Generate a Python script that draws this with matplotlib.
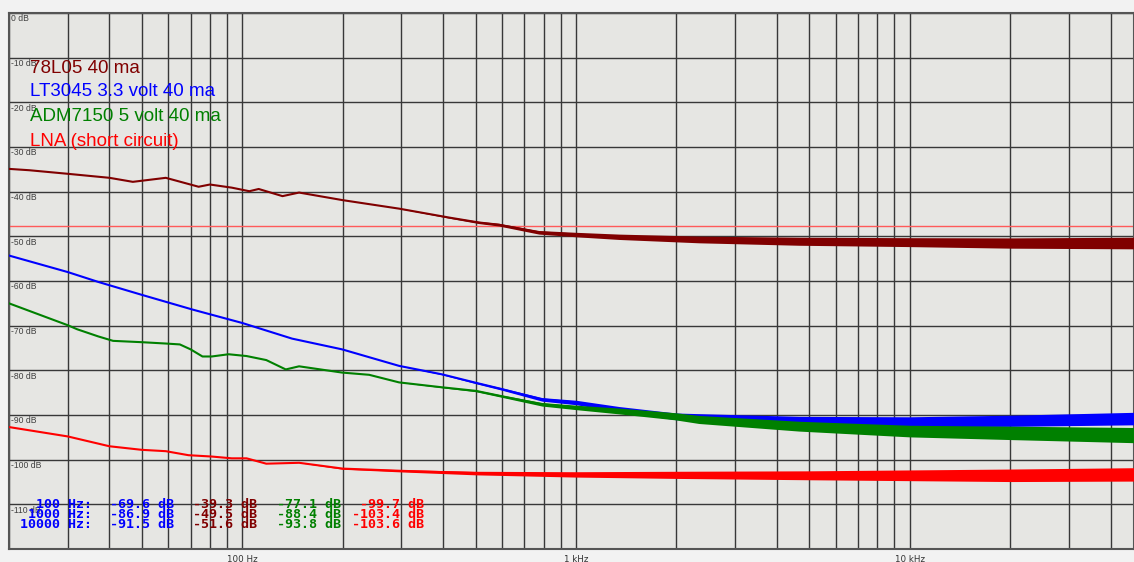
import numpy as np
import matplotlib.pyplot as plt
import matplotlib.transforms as mtransforms
from matplotlib.ticker import LogLocator, NullFormatter

# 78L05 40 ma (dark red)
f_78 = [20, 23, 30, 40, 47, 59, 74, 80, 93, 105, 112, 132, 148, 200, 295, 417, 512, 588,
        774, 1000, 1345, 2334, 4654, 10000, 20000, 47000]
db_78 = [-34.9, -35.2, -36.0, -36.9, -37.8, -36.9, -38.9, -38.4, -39.1, -39.9, -39.4, -41.0,
         -40.2, -41.9, -43.8, -45.8, -46.9, -47.4, -49.1, -49.6, -50.1, -50.7, -51.1, -51.3,
         -51.5, -51.5]
sp_78 = [0, 0, 0, 0, 0, 0, 0, 0, 0, 0, 0, 0, 0, 0, 0, 0.3, 0.5, 0.6, 0.8, 1.0, 1.2, 1.5,
         1.8, 2.0, 2.3, 2.6]

# LT3045 3.3 volt 40 ma (blue)
f_lt = [20, 30, 37, 50, 71, 100, 141, 199, 295, 397, 502, 600, 791, 1000, 1345, 1990, 2334,
        4654, 10000, 20000, 47000]
db_lt = [-54.3, -58.0, -60.2, -63.1, -66.4, -69.4, -72.9, -75.3, -79.0, -80.9, -82.8, -84.2,
         -86.5, -87.2, -88.7, -90.3, -90.5, -91.3, -91.5, -91.3, -90.8]
sp_lt = [0, 0, 0, 0, 0, 0, 0, 0, 0, 0.2, 0.4, 0.5, 0.8, 1.0, 1.2, 1.5, 1.6, 2.0, 2.2, 2.5, 2.8]

# ADM7150 5 volt 40 ma (green)
f_adm = [20, 30, 32, 37, 41, 50, 59, 65, 70, 76, 81, 91, 103, 118, 135, 148, 199, 240, 295,
         397, 502, 600, 791, 1000, 1345, 1990, 2334, 4654, 10000, 20000, 47000]
db_adm = [-65.0, -69.9, -70.8, -72.4, -73.4, -73.7, -74.0, -74.2, -75.3, -76.9, -76.9, -76.4,
          -76.8, -77.7, -79.8, -79.1, -80.5, -81.0, -82.7, -83.8, -84.6, -85.8, -87.6, -88.3,
          -89.1, -90.3, -91.0, -92.5, -93.6, -94.0, -94.5]
sp_adm = [0, 0, 0, 0, 0, 0, 0, 0, 0, 0, 0, 0, 0, 0, 0, 0, 0, 0, 0, 0.2, 0.4, 0.5, 0.8, 1.0,
          1.3, 1.6, 1.8, 2.2, 2.6, 3.0, 3.4]

# LNA (short circuit) (red)
f_lna = [20, 30, 40, 50, 59, 69, 81, 93, 103, 118, 148, 200, 300, 500, 1000, 2000, 5000,
         10000, 20000, 47000]
db_lna = [-92.7, -94.8, -97.0, -97.8, -98.1, -99.0, -99.3, -99.7, -99.7, -100.9, -100.7,
          -102.0, -102.5, -103.0, -103.3, -103.4, -103.5, -103.5, -103.5, -103.3]
sp_lna = [0, 0, 0, 0, 0, 0, 0, 0, 0, 0, 0, 0.3, 0.5, 0.8, 1.2, 1.6, 2.0, 2.4, 2.8, 3.0]

ref_level = -47.6

labels = ['78L05 40 ma', 'LT3045 3.3 volt 40 ma', 'ADM7150 5 volt 40 ma', 'LNA (short circuit)']
colors = ['#800000', '#0000ff', '#008000', '#ff0000']

table_freqs = [100, 1000, 10000]
tab_lt = [-69.6, -86.9, -91.5]
tab_78 = [-39.3, -49.5, -51.6]
tab_adm = [-77.1, -88.4, -93.8]
tab_lna = [-99.7, -103.4, -103.6]

xtick_vals = [100, 1000, 10000]
xtick_labels = ['100 Hz', '1 kHz', '10 kHz']

W, H = 1134, 562
fig = plt.figure(figsize=(W / 100, H / 100), dpi=100, facecolor='#f2f2f2')
ax = fig.add_axes([9 / W, 13 / H, (W - 9) / W, 536 / H])
ax.set_facecolor('#e6e6e3')
ax.set_xscale('log')
ax.set_xlim(20, 47000)
ax.set_ylim(-120, 0)

ax.set_xticks(xtick_vals)
ax.set_xticklabels(xtick_labels)
ax.xaxis.set_minor_locator(LogLocator(base=10, subs=range(2, 10), numticks=30))
ax.xaxis.set_minor_formatter(NullFormatter())
ax.set_yticks(np.arange(-120, 1, 10))
ax.set_axisbelow(True)
ax.grid(which='both', axis='x', color='#383838', lw=1.0)
ax.grid(which='major', axis='y', color='#383838', lw=1.0)
ax.tick_params(which='both', length=0)
ax.tick_params(axis='y', labelleft=False)
ax.tick_params(axis='x', labelsize=6.3, colors='#333333', pad=4)
for s in ax.spines.values():
    s.set_color('#555555')
    s.set_linewidth(1.5)

series = [(f_78, db_78, sp_78), (f_lt, db_lt, sp_lt), (f_adm, db_adm, sp_adm), (f_lna, db_lna, sp_lna)]
for (f, db, sp), c in zip(series, colors):
    f = np.array(f); db = np.array(db); sp = np.array(sp)
    ax.fill_between(f, db - sp / 2, db + sp / 2, color=c, lw=0, zorder=3)
    ax.plot(f, db, color=c, lw=1.5, zorder=3)

ax.axhline(ref_level, color='#ff5a5a', lw=1.0, zorder=2.5)

# y labels inside plot
trans = mtransforms.blended_transform_factory(ax.transAxes, ax.transData)
for v in range(0, -111, -10):
    ax.text(0.002, v - 0.3, f'{v} dB', transform=trans, va='top', ha='left',
            fontsize=6.2, color='#404040', family='Liberation Sans')

# legend texts
baselines = [72.7, 95.7, 121, 145.7]
for lab, c, yb in zip(labels, colors, baselines):
    fig.text(30 / W, 1 - yb / H, lab, color=c, fontsize=13.5, family='Liberation Sans',
             va='baseline', ha='left')

# value table
row_base = [507.5, 517.8, 528]
mono = dict(family='DejaVu Sans Mono', weight='bold', fontsize=9.6, va='baseline', ha='left')
for i, yb in enumerate(row_base):
    y = 1 - yb / H
    fig.text(20 / W, y, f'{table_freqs[i]:>5} Hz:', color=colors[1], **mono)
    fig.text(110 / W, y, f'{tab_lt[i]:.1f} dB', color=colors[1], **mono)
    fig.text(193 / W, y, f'{tab_78[i]:.1f} dB', color=colors[0], **mono)
    fig.text(277 / W, y, f'{tab_adm[i]:.1f} dB', color=colors[2], **mono)
    fig.text(352 / W, y, f'{tab_lna[i]:>6.1f} dB', color=colors[3], **mono)

fig.savefig('out.png', dpi=100, facecolor=fig.get_facecolor())
